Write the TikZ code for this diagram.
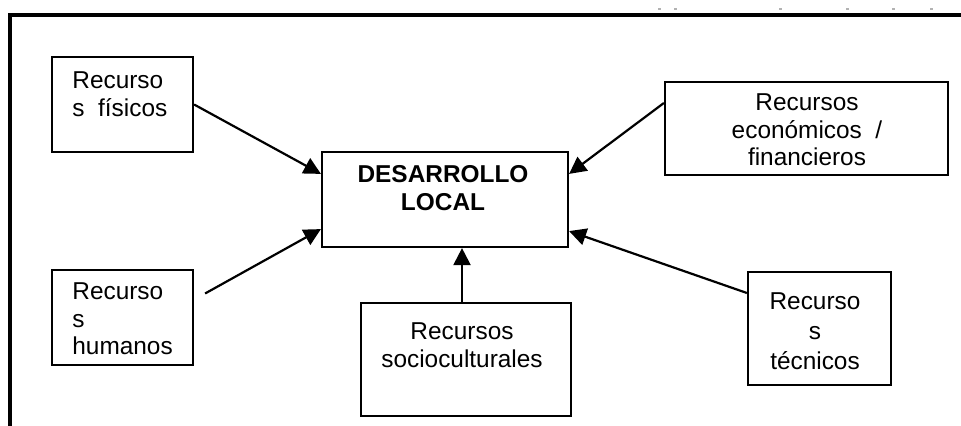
\documentclass[tikz,border=0pt]{standalone}
\usepackage{fontspec}
\setmainfont{Liberation Sans}
\usetikzlibrary{arrows.meta}
\tikzset{
	caja/.style={draw,line width=1.1pt,inner sep=0pt},
	texto/.style={inner sep=0pt,font=\fontsize{12.2}{13.8}\selectfont},
	flecha/.style={line width=1.1pt,-{Triangle[length=8.5pt,width=8.5pt]}}
}

\begin{document}
\begin{tikzpicture}[x=0.5pt,y=-0.5pt]
						\useasboundingbox (0,0) rectangle (961,426);
						\draw [line width=1.6pt] (10,426) -- (10,15) -- (961,15);
						\foreach \xp in {659,675,780,847,893,931}
							\fill [gray!60] (\xp-1.5,8) rectangle (\xp+1.5,10);
						
						\node [caja,minimum width=70.5pt,minimum height=47.5pt] (fis) at (122.5,104.5) {};
						\node [caja,minimum width=70.5pt,minimum height=47.5pt] (hum) at (122.5,317.5) {};
						\node [caja,minimum width=123pt,minimum height=47.5pt] (dl) at (445,199.5) {};
						\node [caja,minimum width=141.5pt,minimum height=46.5pt] (eco) at (806.5,128.5) {};
						\node [caja,minimum width=105pt,minimum height=56.5pt] (soc) at (466,359.5) {};
						\node [caja,minimum width=71.5pt,minimum height=56.5pt] (tec) at (819.5,328.5) {};
						
						\node [texto,align=left,anchor=west] (fist) at (72,94) {Recurso\\s~~físicos};
						\node [texto,align=left,anchor=west] (humt) at (72,319) {Recurso\\s\\humanos};
						\node [texto,align=center,font=\fontsize{12.2}{14}\selectfont\bfseries] (dlt) at (443,188) {DESARROLLO\\LOCAL};
						\node [texto,align=center] (ecot) at (807,130) {Recursos\\económicos~~/\\financieros};
						\node [texto,align=center] (soct) at (462,345) {Recursos\\socioculturales};
						\node [texto,align=center,font=\fontsize{12.2}{15}\selectfont] (tect) at (815,331) {Recurso\\s\\técnicos};
						
						\draw [flecha] (fis.east) -- ([yshift=-11.5pt]dl.north west);
						\draw [flecha] ([xshift=5.5pt,yshift=12pt]hum.east) -- ([yshift=9.5pt]dl.south west);
						\draw [flecha] ([xshift=-2pt]soc.north) -- ([xshift=-2pt]soc.north |- dl.south);
						\draw [flecha] ([yshift=12.75pt]eco.west) -- ([yshift=-11.5pt]dl.north east);
						\draw [flecha] ([yshift=17.75pt]tec.west) -- ([yshift=8.5pt]dl.south east);
					\end{tikzpicture}
\end{document}
